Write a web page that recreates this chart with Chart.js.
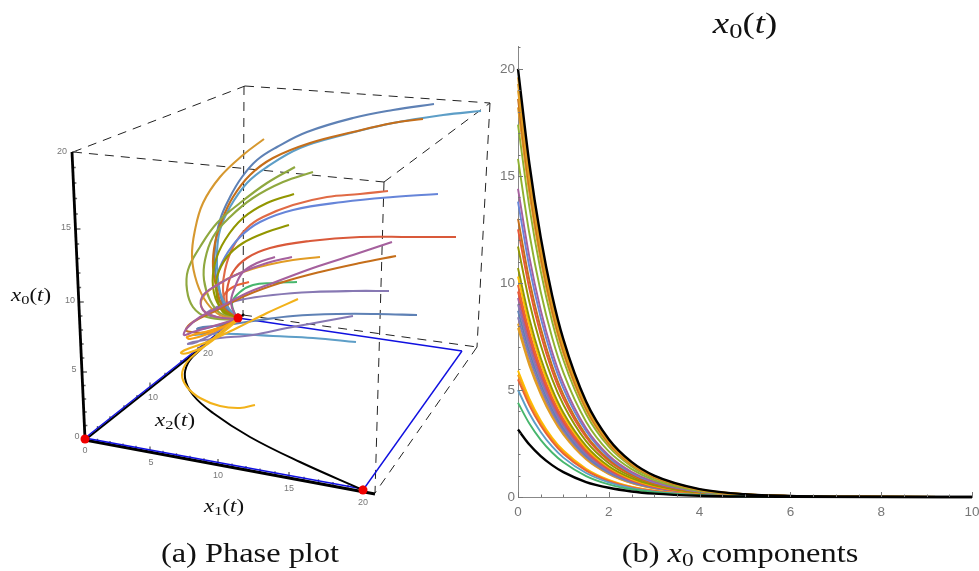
<!DOCTYPE html>
<html>
<head>
<meta charset="utf-8">
<script src="https://cdn.jsdelivr.net/npm/chart.js@4"></script>
<style>
html,body{margin:0;padding:0;background:#fff;width:979px;height:571px;overflow:hidden}
canvas{position:absolute;top:0}
#phase{left:0}
#comp{left:490px}
.t{position:absolute;font-family:"Liberation Serif",serif;color:#111;white-space:nowrap;transform:translate(-50%,-50%) scaleX(1.2);line-height:1}
.m{transform:translate(-50%,-50%) scaleX(1.27)}
.t sub{font-size:.72em;line-height:0;vertical-align:-.25em}
</style>
</head>
<body>
<canvas id="phase" width="495" height="571"></canvas>
<canvas id="comp" width="489" height="571"></canvas>
<div class="t" style="left:250px;top:553px;font-size:27px">(a) Phase plot</div>
<div class="t" style="left:740px;top:553px;font-size:27px">(b) <i>x</i><sub>0</sub> components</div>
<div class="t m" style="left:745px;top:23px;font-size:29px"><i>x</i><sub>0</sub>(<i>t</i>)</div>
<div class="t m" style="left:31px;top:295px;font-size:18px"><i>x</i><sub>0</sub>(<i>t</i>)</div>
<div class="t m" style="left:224px;top:506px;font-size:18px"><i>x</i><sub>1</sub>(<i>t</i>)</div>
<div class="t m" style="left:175px;top:420px;font-size:18px"><i>x</i><sub>2</sub>(<i>t</i>)</div>
<script>
// ---------- Panel (b): x0 components ----------
const tValues = [0,0.25,0.5,0.75,1,1.5,2,2.5,3,4,5,6,8,10];
const xTickValues = [0,0.5,1,1.5,2,2.5,3,3.5,4,4.5,5,5.5,6,6.5,7,7.5,8,8.5,9,9.5,10];
const yTickValues = [0,1,2,3,4,5,6,7,8,9,10,11,12,13,14,15,16,17,18,19,20,21];

const c079 = [7.9,6.15,4.80,3.73,2.91,1.76,1.07,.65,.40,.14,.05,.02,0,0];
const c081 = [8.1,6.31,4.92,3.82,2.98,1.81,1.09,.66,.41,.15,.05,.02,0,0];
const c084 = [8.4,6.54,5.10,3.96,3.09,1.87,1.13,.69,.42,.15,.06,.02,0,0];
const c087 = [8.7,6.78,5.28,4.11,3.20,1.94,1.17,.71,.44,.16,.06,.02,0,0];
const c090 = [9.0,7.01,5.46,4.25,3.31,2.01,1.22,.74,.45,.16,.06,.02,0,0];
const c093 = [9.3,7.24,5.65,4.39,3.42,2.07,1.26,.76,.47,.17,.06,.02,0,0];
const c096 = [9.6,7.48,5.83,4.53,3.53,2.14,1.30,.79,.48,.17,.06,.02,0,0];
const c099 = [9.9,7.71,6.01,4.67,3.64,2.21,1.34,.81,.50,.18,.07,.02,0,0];
const c103 = [10.3,8.02,6.25,4.86,3.79,2.30,1.39,.84,.52,.19,.07,.03,0,0];
const c107 = [10.7,8.34,6.49,5.05,3.94,2.39,1.44,.88,.54,.19,.07,.03,0,0];
const c117 = [11.7,9.11,7.10,5.52,4.31,2.61,1.58,.96,.59,.21,.08,.03,0,0];
const c125 = [12.5,9.74,7.59,5.90,4.60,2.79,1.69,1.03,.63,.23,.08,.03,0,0];
const c130 = [13.0,10.13,7.89,6.14,4.78,2.90,1.76,1.07,.65,.23,.09,.03,0,0];
const c138 = [13.8,10.75,8.38,6.51,5.08,3.08,1.86,1.13,.69,.25,.09,.03,0,0];
const c144 = [14.4,11.22,8.74,6.80,5.30,3.21,1.94,1.18,.72,.26,.10,.04,0,0];
const c158 = [15.8,12.31,9.59,7.46,5.81,3.52,2.13,1.30,.79,.28,.11,.04,0,0];
const c174 = [17.4,13.55,10.56,8.21,6.40,3.88,2.35,1.43,.87,.31,.12,.04,.01,0];
const c182 = [18.2,14.18,11.05,8.59,6.70,4.06,2.46,1.49,.91,.33,.12,.05,.01,0];
const c186 = [18.6,14.49,11.29,8.78,6.84,4.15,2.51,1.53,.93,.33,.12,.05,.01,0];
const c190 = [19.0,14.80,11.53,8.97,6.99,4.24,2.57,1.56,.95,.34,.13,.05,.01,0];
const c193 = [19.3,15.03,11.72,9.11,7.10,4.30,2.61,1.58,.97,.35,.13,.05,.01,0];
const c196 = [19.6,15.27,11.90,9.25,7.21,4.37,2.65,1.61,.98,.35,.13,.05,.01,0];
const c200 = [20,15.58,12.14,9.44,7.36,4.46,2.70,1.64,1.00,.37,.13,.05,.01,0];
const c059 = [5.9,4.60,3.58,2.78,2.17,1.32,.80,.48,.30,.11,.04,.01,0,0];
const c057 = [5.7,4.44,3.46,2.69,2.10,1.27,.77,.47,.29,.10,.04,.01,0,0];
const c055 = [5.5,4.28,3.34,2.60,2.02,1.23,.74,.45,.28,.10,.04,.01,0,0];
const c050 = [5.0,3.90,3.04,2.36,1.84,1.12,.68,.41,.25,.09,.03,.01,0,0];
const c044 = [4.4,3.43,2.67,2.08,1.62,.98,.59,.36,.22,.08,.03,.01,0,0];
const c031 = [3.15,2.45,1.91,1.49,1.16,.70,.43,.26,.16,.06,.02,.01,0,0];

const compCurves = [
 [c079,'#E19C24'],[c081,'#E19C24'],[c084,'#8778B3'],[c087,'#5E81B5'],[c090,'#8778B3'],[c093,'#A5609D'],
 [c096,'#E95536'],[c099,'#EB6235'],[c103,'#FFBF00'],[c107,'#929600'],[c117,'#929600'],
 [c125,'#E95536'],[c130,'#C56E1A'],[c138,'#6685D9'],[c144,'#A5609D'],[c158,'#8FB131'],
 [c174,'#8FB131'],[c182,'#E19C24'],[c186,'#C56E1A'],[c190,'#E19C24'],[c193,'#E19C24'],[c196,'#E19C24'],
 [c059,'#FFBF00'],[c057,'#F89F13'],[c055,'#EB6235'],[c050,'#5D9EC7'],[c044,'#47B66D'],
 [c031,'#000000'],[c200,'#000000']
];

// ---------- Panel (a): projected phase plot, in the picture plane ----------
const traj01 = [[434,104],[393,110],[353,118],[307,132],[277,147],[257,160],[242,177],[230,197],[220,220],[215,247],[215,270],[219,290],[225,307],[237,318]];
const traj02 = [[481,111],[443,115],[393,123],[343,135],[300,148],[267,167],[247,183],[230,207],[220,230],[217,253],[218,280],[223,300],[237,318]];
const traj03 = [[423,119],[393,123],[353,132],[310,143],[273,158],[250,175],[233,197],[222,220],[215,243],[213,267],[217,290],[223,307],[237,318]];
const traj04 = [[264,139],[243,155],[220,177],[203,203],[195,230],[192,257],[197,283],[207,303],[220,315],[237,319]];
const traj05 = [[295,167],[267,183],[240,203],[217,223],[200,247],[188,270],[187,290],[193,307],[207,317],[237,320]];
const traj06 = [[313,172],[283,182],[253,198],[230,217],[213,237],[205,260],[204,280],[210,300],[220,313],[237,319]];
const traj07 = [[294,194],[267,203],[243,218],[225,240],[215,263],[213,287],[220,307],[237,319]];
const traj08 = [[289,225],[267,232],[243,243],[227,257],[217,277],[217,297],[223,312],[237,319]];
const traj09 = [[388,191],[360,194],[327,197],[293,205],[263,217],[247,228],[233,247],[225,270],[223,290],[227,308],[237,319]];
const traj10 = [[438,194],[393,197],[343,202],[293,210],[260,222],[240,237],[225,257],[217,277],[218,297],[227,312],[237,319]];
const traj11 = [[456,237],[410,237],[360,237],[310,241],[270,248],[247,258],[233,272],[227,290],[228,307],[237,319]];
const traj12 = [[392,242],[353,255],[313,268],[273,283],[247,293],[220,307],[200,317],[187,328],[184,335],[193,332],[217,325],[237,319]];
const traj13 = [[396,256],[360,263],[320,272],[280,283],[247,295],[217,310],[193,322],[186,330],[192,332],[207,332],[237,320]];
const traj14 = [[320,257],[293,260],[267,265],[243,272],[220,283],[203,297],[203,310],[217,317],[237,319]];
const traj15 = [[292,257],[267,263],[240,273],[217,285],[202,297],[203,310],[217,317],[237,319]];
const traj16 = [[275,257],[257,263],[243,272],[235,287],[231,303],[237,319]];
const traj17 = [[297,282],[273,283],[253,285],[240,292],[232,303],[237,319]];
const traj18 = [[249,282],[233,287],[223,297],[223,310],[237,319]];
const traj19 = [[389,291],[353,291],[313,292],[273,295],[240,300],[217,307],[207,314],[220,318],[237,319]];
const traj20 = [[417,315],[377,314],[337,314],[293,316],[260,320],[227,325],[203,327],[197,329],[207,328],[237,320]];
const traj21 = [[353,316],[320,322],[287,328],[253,335],[220,338],[193,342],[188,344],[197,342],[220,330],[237,321]];
const traj22 = [[356,342],[313,338],[273,336],[237,334],[207,334],[193,335],[207,333],[237,321]];
const traj23 = [[230,325],[205,332],[187,337],[190,339],[210,333],[237,320]];
const traj24 = [[298,299],[267,313],[237,328],[207,342],[185,350],[181,353],[188,353],[203,347],[217,337],[237,321]];
const traj25 = [[255,405],[240,408],[220,406],[200,398],[187,387],[182,375],[187,362],[200,350],[217,335],[238,318]];
const blackPath = [[363,490],[300,462],[250,437],[213,413],[193,395],[185,378],[188,363],[200,350],[217,335],[238,318]];

const trajectories = [
 [traj22,'#5D9EC7'],[traj21,'#8778B3'],[traj20,'#5E81B5'],[traj19,'#8778B3'],[traj18,'#EB6235'],[traj17,'#47B66D'],
 [traj11,'#D9593A'],[traj09,'#E06A45'],[traj10,'#6685D9'],[traj01,'#5E81B5'],[traj02,'#5D9EC7'],[traj03,'#C56E1A'],
 [traj07,'#929600'],[traj08,'#929600'],[traj05,'#8FA83F'],[traj06,'#8FA83F'],[traj04,'#D6982F'],
 [traj14,'#E19C24'],[traj13,'#C56E1A'],[traj15,'#A5609D'],[traj16,'#A5609D'],[traj12,'#A5609D'],[traj23,'#F89F13']
];

const dashedEdges = [
 [[73,152],[245,86]],[[245,86],[490,103]],[[73,152],[384,182]],[[384,182],[490,103]],
 [[244,86],[243,317]],[[384,182],[375,493]],[[490,103],[477,347]],[[477,347],[375,493]],[[243,315],[477,347]]
];
const blueEdges = [[[85,438],[238,317]],[[85,438],[363,489]],[[238,318],[462,351]],[[462,351],[363,490]]];
const axisLines = [[[72,152],[85,439]],[[85,440],[375,494]],[[85,440],[244,314]]];
const fixedPoints = [[85,439],[363,490],[238,318]];

const x0TickY = [439,425.5,412,399,385.5,372,358,344,330,316,302,287.5,273,258.5,244,229,214,198.5,183,167.5,152];
const x1TickX = [85,97.5,110,123,136,150,163,176.5,190,204,218,232,246,260,275,289,304,318.5,333,348,363];
const x2TickX = [85,97.5,110,124,137,150,165,181,198,217,238];

const phaseLabels = [
 ['20',62,152],['15',66,228],['10',70,301],['5',74,370],['0',77,437],
 ['0',85,451],['5',151,463],['10',218,476],['15',289,489],['20',363,503],
 ['10',153,398],['20',208,354]
];

// ---------- Drawing ----------
const pts = a => a.map(p => ({x:p[0],y:p[1]}));
const phaseSets = [];
let ord = 0;
function addLine(a,color,width,extra){
  phaseSets.push(Object.assign({data:pts(a),showLine:true,pointRadius:0,borderColor:color,borderWidth:width,
    tension:0,fill:false,order:ord--,clip:false},extra||{}));
}
dashedEdges.forEach(e=>addLine(e,'#222',1,{borderDash:[9,7]}));
const tickSeg=[];
x0TickY.forEach((y,i)=>{const x=85-13*(439-y)/287;const l=i%5==0?5:3;tickSeg.push({x:x,y:y},{x:x+l,y:y},{x:null,y:null});});
x1TickX.forEach((x,i)=>{const y=439.5+(x-85)*51/278;const l=i%5==0?5:3;tickSeg.push({x:x,y:y},{x:x,y:y-l},{x:null,y:null});});
x2TickX.forEach((x,i)=>{const y=439-(x-85)*121/153;tickSeg.push({x:x,y:y},{x:x,y:y-(i%5==0?5:3)},{x:null,y:null});});
phaseSets.push({data:tickSeg,showLine:true,pointRadius:0,borderColor:'#666',borderWidth:1.4,order:ord--,clip:false,spanGaps:false});
axisLines.forEach((e,i)=>addLine(e,'#000',i==2?2.2:2.8));
blueEdges.forEach(e=>addLine(e,'#1010E0',1.4));
addLine(blackPath,'#000',2,{tension:0.4});
trajectories.forEach(c=>addLine(c[0],c[1],2.1,{tension:0.4}));
addLine(traj24,'#F2B21A',2.1,{tension:0.4});
addLine(traj25,'#F2B21A',2.1,{tension:0.4});
phaseSets.push({data:pts(fixedPoints),showLine:false,pointRadius:4.5,pointBackgroundColor:'#F00000',pointBorderWidth:0,order:ord--,clip:false});

const labelPlugin={id:'phaseLabels',afterDatasetsDraw(ch){
  const c=ch.ctx,sx=ch.scales.x,sy=ch.scales.y;
  c.save();c.font='9px "Liberation Sans"';c.fillStyle='#777';c.textAlign='center';c.textBaseline='middle';
  phaseLabels.forEach(l=>c.fillText(l[0],sx.getPixelForValue(l[1]),sy.getPixelForValue(l[2])));
  c.restore();
}};
new Chart(document.getElementById('phase'),{
  type:'scatter',data:{datasets:phaseSets},plugins:[labelPlugin],
  options:{responsive:false,animation:false,devicePixelRatio:1,
    plugins:{legend:{display:false},tooltip:{enabled:false}},
    layout:{padding:0,autoPadding:false},
    scales:{x:{type:'linear',display:false,min:0,max:495},y:{type:'linear',display:false,min:0,max:571,reverse:true}}}
});

const inwardTicks={id:'inwardTicks',afterDraw(ch){
  const c=ch.ctx,sx=ch.scales.x,sy=ch.scales.y,a=ch.chartArea;
  c.save();c.strokeStyle='#777';c.lineWidth=1;c.beginPath();
  xTickValues.forEach(v=>{const p=Math.round(sx.getPixelForValue(v))+.5;const l=v%2==0?5:2.5;c.moveTo(p,a.bottom);c.lineTo(p,a.bottom-l);});
  yTickValues.forEach(v=>{const p=Math.round(sy.getPixelForValue(v))+.5;const l=v%5==0?5:2.5;c.moveTo(a.left,p);c.lineTo(a.left+l,p);});
  c.stroke();c.restore();
}};
const tickFont={family:'"Liberation Sans"',size:13.5};
new Chart(document.getElementById('comp'),{
  type:'scatter',
  data:{datasets:compCurves.map((c,i)=>({data:tValues.map((t,j)=>({x:t,y:c[0][j]})),showLine:true,pointRadius:0,
    borderColor:c[1],borderWidth:c[1]=='#000000'?2.4:1.9,cubicInterpolationMode:'monotone',order:-i,clip:false}))},
  plugins:[inwardTicks],
  options:{responsive:false,animation:false,devicePixelRatio:1,
    plugins:{legend:{display:false},tooltip:{enabled:false}},
    layout:{padding:{top:46,right:0,left:0,bottom:0},autoPadding:false},
    scales:{
      x:{type:'linear',min:0,max:10,
        afterBuildTicks:s=>{s.ticks=xTickValues.map(v=>({value:v}));},
        afterFit:s=>{s.height=74;s.paddingRight=7;s.paddingLeft=0;},
        grid:{display:true,drawOnChartArea:false,drawTicks:false},
        border:{display:true,color:'#888',width:1},
        ticks:{autoSkip:false,maxRotation:0,color:'#777',font:tickFont,padding:7,callback:v=>v%2==0?String(v):''}},
      y:{type:'linear',min:0,max:21.07,
        afterBuildTicks:s=>{s.ticks=yTickValues.map(v=>({value:v}));},
        afterFit:s=>{s.width=28;s.paddingTop=0;s.paddingBottom=0;},
        grid:{display:true,drawOnChartArea:false,drawTicks:false},
        border:{display:true,color:'#888',width:1},
        ticks:{autoSkip:false,color:'#777',font:tickFont,padding:3,callback:v=>v%5==0?String(v):''}}
    }}
});
</script>
</body>
</html>
